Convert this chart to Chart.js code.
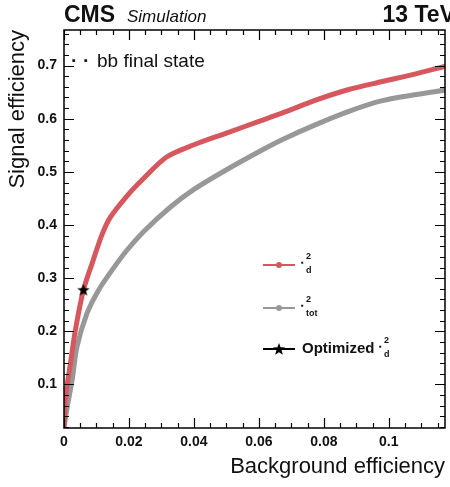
<!DOCTYPE html>
<html>
<head>
<meta charset="utf-8">
<script src="https://cdn.jsdelivr.net/npm/chart.js@4"></script>
<style>
  html, body { margin: 0; padding: 0; background: #fff; }
  #wrap { width: 450px; height: 487px; }
</style>
</head>
<body>
<div id="wrap"><canvas id="roc"></canvas></div>
<script>
// ROC curves: signal efficiency vs background efficiency
const bkgChi2d = [0, 0.0005, 0.002, 0.0035, 0.006, 0.009, 0.0117, 0.0142, 0.0193, 0.0244, 0.0316, 0.040, 0.050, 0.060, 0.0673, 0.0775, 0.0877, 0.098, 0.108, 0.1175];
const sigChi2d = [0.02, 0.077, 0.14, 0.202, 0.278, 0.334, 0.382, 0.414, 0.454, 0.487, 0.528, 0.551, 0.573, 0.595, 0.611, 0.635, 0.655, 0.670, 0.684, 0.699];

const bkgChi2tot = [0, 0.001, 0.0025, 0.004, 0.0071, 0.0105, 0.0142, 0.0193, 0.0244, 0.0326, 0.040, 0.050, 0.060, 0.0673, 0.0775, 0.0877, 0.098, 0.108, 0.1175];
const sigChi2tot = [0.02, 0.058, 0.108, 0.171, 0.234, 0.276, 0.31, 0.352, 0.387, 0.433, 0.467, 0.504, 0.538, 0.561, 0.589, 0.614, 0.634, 0.645, 0.654];

// optimized working point
const optBkg = [0.006];
const optSig = [0.278];

const xTicks = [0, 0.02, 0.04, 0.06, 0.08, 0.1];
const yTicks = [0.1, 0.2, 0.3, 0.4, 0.5, 0.6, 0.7];

const RED = 'rgb(214, 88, 94)';
const GREY = 'rgb(152, 152, 152)';
const FONT = '"Liberation Sans", Arial, Helvetica, sans-serif';

function starPath(ctx, cx, cy, R, r) {
    ctx.beginPath();
    for (let i = 0; i < 10; i++) {
        const a = -Math.PI / 2 + i * Math.PI / 5;
        const rad = i % 2 === 0 ? R : r;
        const px = cx + rad * Math.cos(a), py = cy + rad * Math.sin(a);
        if (i === 0) ctx.moveTo(px, py); else ctx.lineTo(px, py);
    }
    ctx.closePath();
}

// filled star used as point style
const starImg = document.createElement('canvas');
starImg.width = 14; starImg.height = 14;
(function () {
    const c = starImg.getContext('2d');
    c.fillStyle = '#000';
    starPath(c, 7, 7.5, 6.5, 2.7);
    c.fill();
})();

const toXY = (xs, ys) => xs.map((x, i) => ({ x: x, y: ys[i] }));

// frame, inward ticks, header and legend text
const decorations = {
    id: 'decorations',
    afterDraw(chart) {
        const ctx = chart.ctx;
        const { left, right, top, bottom } = chart.chartArea;
        const xs = chart.scales.x, ys = chart.scales.y;
        ctx.save();
        ctx.strokeStyle = '#000';
        ctx.lineWidth = 1.5;
        ctx.strokeRect(left, top, right - left, bottom - top);

        ctx.lineWidth = 1.2;
        ctx.beginPath();
        for (let i = 0; i * 0.005 <= xs.max + 1e-9; i++) {
            const px = Math.round(xs.getPixelForValue(i * 0.005)) + 0.5;
            const len = i % 4 === 0 ? 10 : 5;
            ctx.moveTo(px, bottom); ctx.lineTo(px, bottom - len);
            ctx.moveTo(px, top); ctx.lineTo(px, top + len);
        }
        for (let i = 1; i * 0.02 <= ys.max; i++) {
            const v = i * 0.02;
            if (v < ys.min) continue;
            const py = Math.round(ys.getPixelForValue(v)) + 0.5;
            const len = i % 5 === 0 ? 10 : 5;
            ctx.moveTo(left, py); ctx.lineTo(left + len, py);
            ctx.moveTo(right, py); ctx.lineTo(right - len, py);
        }
        ctx.stroke();

        // header
        ctx.fillStyle = '#111';
        ctx.textBaseline = 'alphabetic';
        ctx.textAlign = 'left';
        ctx.font = 'bold 23px ' + FONT;
        ctx.fillText('CMS', 64, 22);
        ctx.font = 'italic 17px ' + FONT;
        ctx.fillText('Simulation', 127, 22);
        ctx.textAlign = 'right';
        ctx.font = 'bold 23px ' + FONT;
        ctx.fillText('13 TeV', 455, 22);

        // final state tag
        ctx.textAlign = 'left';
        ctx.textBaseline = 'middle';
        ctx.font = 'bold 11px ' + FONT;
        ctx.fillText('\u25AA', 72, 61);
        ctx.fillText('\u25AA', 84, 61);
        ctx.font = '19px ' + FONT;
        ctx.fillText('bb final state', 97, 62);

        // legend
        const lx0 = 263, lx1 = 295, lxm = 279;
        const drawSym = (x, y, sub) => {
            ctx.font = 'bold 8px ' + FONT;
            ctx.fillText('\u25AA', x, y);
            ctx.font = 'bold 9px ' + FONT;
            ctx.fillText('2', x + 5, y - 6);
            ctx.fillText(sub, x + 5, y + 8);
        };
        [[265, RED, 'd'], [308, GREY, 'tot']].forEach(([y, col, sub]) => {
            ctx.strokeStyle = col;
            ctx.lineWidth = 2;
            ctx.beginPath(); ctx.moveTo(lx0, y); ctx.lineTo(lx1, y); ctx.stroke();
            ctx.fillStyle = col;
            ctx.beginPath(); ctx.arc(lxm, y, 3, 0, Math.PI * 2); ctx.fill();
            ctx.fillStyle = '#111';
            drawSym(301, y - 2, sub);
        });
        ctx.strokeStyle = '#000';
        ctx.lineWidth = 2;
        ctx.beginPath(); ctx.moveTo(lx0, 349); ctx.lineTo(lx1, 349); ctx.stroke();
        ctx.fillStyle = '#000';
        starPath(ctx, lxm, 349.5, 6.5, 2.7); ctx.fill();
        ctx.fillStyle = '#111';
        ctx.font = 'bold 15px ' + FONT;
        ctx.fillText('Optimized', 302, 349);
        drawSym(379, 347, 'd');
        ctx.restore();
    }
};

new Chart(document.getElementById('roc'), {
    type: 'line',
    data: {
        datasets: [
            {
                label: 'chi2 tot',
                data: toXY(bkgChi2tot, sigChi2tot),
                borderColor: GREY,
                borderWidth: 5,
                pointRadius: 0,
                tension: 0.3,
                order: 3
            },
            {
                label: 'chi2 d',
                data: toXY(bkgChi2d, sigChi2d),
                borderColor: RED,
                borderWidth: 5,
                pointRadius: 0,
                tension: 0.3,
                order: 2
            },
            {
                label: 'Optimized chi2 d',
                data: toXY(optBkg, optSig),
                showLine: false,
                pointStyle: starImg,
                order: 1
            }
        ]
    },
    options: {
        responsive: true,
        maintainAspectRatio: false,
        animation: false,
        layout: { padding: { left: 0, top: 30, right: 3, bottom: 0 } },
        plugins: {
            legend: { display: false },
            tooltip: { enabled: false }
        },
        scales: {
            x: {
                type: 'linear',
                min: 0,
                max: 0.1173,
                afterFit: s => { s.height = 59; },
                afterBuildTicks: s => { s.ticks = xTicks.map(v => ({ value: v })); },
                grid: { display: false, drawTicks: false },
                border: { display: false },
                ticks: {
                    padding: 6,
                    color: '#111',
                    font: { family: FONT, size: 14, weight: 'bold' },
                    callback: v => String(v)
                },
                title: {
                    display: true,
                    text: 'Background efficiency',
                    align: 'end',
                    color: '#111',
                    font: { family: FONT, size: 22 },
                    padding: { top: 0, bottom: 7 }
                }
            },
            y: {
                min: 0.018,
                max: 0.767,
                afterFit: s => { s.width = 64; },
                afterBuildTicks: s => { s.ticks = yTicks.map(v => ({ value: v })); },
                grid: { display: false, drawTicks: false },
                border: { display: false },
                ticks: {
                    padding: 7,
                    color: '#111',
                    font: { family: FONT, size: 14, weight: 'bold' },
                    callback: v => String(v)
                },
                title: {
                    display: true,
                    text: 'Signal efficiency',
                    align: 'end',
                    color: '#111',
                    font: { family: FONT, size: 22 },
                    padding: { top: 5, bottom: 0 }
                }
            }
        }
    },
    plugins: [decorations]
});
</script>
</body>
</html>
